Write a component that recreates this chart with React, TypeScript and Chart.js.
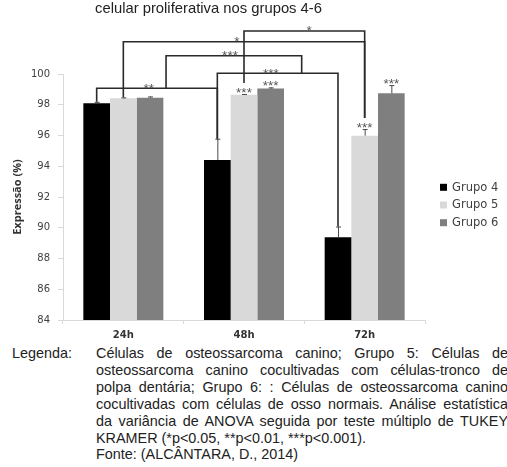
import React, { useEffect, useRef } from "react";
import { Chart, registerables } from "chart.js";

Chart.register(...registerables);

// ---- data ----
const categories = ["24h", "48h", "72h"];
const seriesNames = ["Grupo 4", "Grupo 5", "Grupo 6"];
const grupo4 = [98.09, 94.41, 89.38];
const grupo5 = [98.42, 98.65, 95.99];
const grupo6 = [98.46, 99.05, 98.74];
const grupo4Err = [0.1, 1.38, 0.7];
const grupo5Err = [0.06, 0.05, 0.43];
const grupo6Err = [0.08, 0.08, 0.54];
const grupo4Sig = ["", "", ""];
const grupo5Sig = ["", "***", "***"];
const grupo6Sig = ["", "***", "***"];
const yTicks = [84, 86, 88, 90, 92, 94, 96, 98, 100];
const seriesColors = ["#000000", "#d9d9d9", "#7f7f7f"];

// comparison brackets: endpoints are bars [category, dataset] or other brackets (at a category position)
const brackets = [
  { a: { bar: [0, 0] }, b: { bar: [1, 0] }, level: 99.07, label: "**", labelAt: 0.21 },
  { a: { bar: [1, 0] }, b: { bar: [2, 0] }, level: 100.05, label: "***", labelAt: 1.223 },
  { a: { bracket: 0, at: 0.354 }, b: { bracket: 1, at: 1.478 }, level: 101.19, label: "***", labelAt: 0.884 },
  { a: { bar: [0, 1] }, b: { bar: [2, 1] }, level: 102.1, label: "*", labelAt: 0.94 },
  { a: { bar: [1, 1] }, b: { bar: [2, 1] }, level: 102.8, label: "*", labelAt: 1.54 },
];

const titleText = "celular proliferativa nos grupos 4-6";
const yTitle = "Expressão (%)";
const captionLabel = "Legenda:";
const captionLines = [
  "Células de osteossarcoma canino; Grupo 5: Células de",
  "osteossarcoma canino cocultivadas com células-tronco de",
  "polpa dentária; Grupo 6: : Células de osteossarcoma canino",
  "cocultivadas com células de osso normais. Análise estatística",
  "da variância de ANOVA seguida por teste múltiplo de TUKEY",
  "KRAMER (*p<0.05, **p<0.01, ***p<0.001).",
  "Fonte: (ALCÂNTARA, D., 2014)",
];

const values = [grupo4, grupo5, grupo6];
const errors = [grupo4Err, grupo5Err, grupo6Err];
const sigs = [grupo4Sig, grupo5Sig, grupo6Sig];

const STAR_FONT = 13.5;

function drawStars(ctx: CanvasRenderingContext2D, s: string, x: number, cy: number) {
  ctx.font = `${STAR_FONT}px 'Liberation Sans', Arial, sans-serif`;
  ctx.fillStyle = "#555555";
  ctx.textAlign = "center";
  ctx.textBaseline = "alphabetic";
  ctx.fillText(s, x, cy + 0.58 * STAR_FONT);
}

const annotatePlugin = {
  id: "annotate",
  afterDatasetsDraw(chart: any) {
    const ctx: CanvasRenderingContext2D = chart.ctx;
    const ys = chart.scales.y;
    const xs = chart.scales.x;
    ctx.save();
    const barEnd: number[][] = [[], [], []];
    const barX: number[][] = [[], [], []];
    for (let d = 0; d < 3; d++) {
      const meta = chart.getDatasetMeta(d);
      for (let c = 0; c < categories.length; c++) {
        const el = meta.data[c];
        const v = values[d][c];
        const top = ys.getPixelForValue(v);
        const cap = ys.getPixelForValue(v + errors[d][c]);
        ctx.strokeStyle = "#4a4a4a";
        ctx.lineWidth = 1;
        ctx.beginPath();
        ctx.moveTo(el.x + 0.5, top);
        ctx.lineTo(el.x + 0.5, cap);
        ctx.moveTo(el.x - 2, cap + 0.5);
        ctx.lineTo(el.x + 3, cap + 0.5);
        ctx.stroke();
        barX[d][c] = el.x;
        if (sigs[d][c]) {
          const cy = cap - 5;
          drawStars(ctx, sigs[d][c], el.x, cy);
          barEnd[d][c] = cy - 6;
        } else {
          barEnd[d][c] = cap;
        }
      }
    }
    const levelPx = brackets.map((b) => ys.getPixelForValue(b.level));
    const endpoint = (e: any) => {
      if (e.bar) {
        const [c, d] = e.bar;
        return { x: barX[d][c], y: barEnd[d][c] };
      }
      return { x: xs.getPixelForValue(e.at), y: levelPx[e.bracket] };
    };
    ctx.strokeStyle = "#2a2a2a";
    ctx.lineWidth = 1.6;
    ctx.lineJoin = "miter";
    brackets.forEach((b, i) => {
      const pa = endpoint(b.a);
      const pb = endpoint(b.b);
      const ly = levelPx[i];
      ctx.beginPath();
      ctx.moveTo(pa.x, pa.y);
      ctx.lineTo(pa.x, ly);
      ctx.lineTo(pb.x, ly);
      ctx.lineTo(pb.x, pb.y);
      ctx.stroke();
    });
    brackets.forEach((b, i) => {
      drawStars(ctx, b.label, xs.getPixelForValue(b.labelAt), levelPx[i] - 3.5);
    });
    ctx.restore();
  },
  afterDraw(chart: any) {
    const ctx: CanvasRenderingContext2D = chart.ctx;
    const area = chart.chartArea;
    ctx.save();
    // title fragment
    ctx.font = "14.8px 'Liberation Sans', Arial, sans-serif";
    ctx.fillStyle = "#222222";
    ctx.textAlign = "left";
    ctx.textBaseline = "alphabetic";
    ctx.fillText(titleText, 95, 13.3);
    // legend
    const lx = area.right + 15;
    const ly0 = area.top + (area.bottom - area.top) / 2 - 9.7;
    ctx.font = "11.5px 'DejaVu Sans', sans-serif";
    ctx.textBaseline = "middle";
    seriesNames.forEach((name, i) => {
      const cy = ly0 + i * 17.7;
      ctx.fillStyle = seriesColors[i];
      ctx.fillRect(lx, cy - 3.5, 7, 7);
      ctx.fillStyle = "#404040";
      ctx.fillText(name, lx + 12, cy + 0.5);
    });
    ctx.restore();
  },
};

export default function App() {
  const ref = useRef<HTMLCanvasElement | null>(null);
  useEffect(() => {
    if (!ref.current) return;
    const chart = new Chart(ref.current, {
      type: "bar",
      data: {
        labels: categories,
        datasets: seriesNames.map((name, i) => ({
          label: name,
          data: values[i],
          backgroundColor: seriesColors[i],
          borderWidth: 0,
          categoryPercentage: 0.663,
          barPercentage: 1,
        })),
      },
      options: {
        animation: false,
        responsive: false,
        devicePixelRatio: 1,
        layout: { padding: { left: 0, right: 82, top: 74, bottom: 0 } },
        plugins: {
          legend: { display: false },
          title: { display: false },
          tooltip: { enabled: false },
        },
        scales: {
          x: {
            grid: { display: true, drawOnChartArea: false, drawTicks: true, tickLength: 4, color: "#d9d9d9", offset: true },
            border: { display: true, color: "#d9d9d9" },
            ticks: {
              padding: 5,
              color: "#333333",
              font: { family: "'DejaVu Sans', sans-serif", size: 10, weight: "bold" },
            },
            afterFit: (s: any) => {
              s.height = 25;
            },
          },
          y: {
            min: 84,
            max: 100,
            grid: { display: true, drawOnChartArea: false, drawTicks: true, tickLength: 5, color: "#d9d9d9" },
            border: { display: true, color: "#d9d9d9" },
            ticks: {
              padding: 8,
              color: "#404040",
              font: { family: "'DejaVu Sans', sans-serif", size: 10 },
            },
            afterBuildTicks: (s: any) => {
              s.ticks = yTicks.map((v) => ({ value: v }));
            },
            title: {
              display: true,
              text: yTitle,
              color: "#333333",
              font: { family: "'Open Sans', sans-serif", size: 11, weight: "bold" },
              padding: { top: 11, bottom: 0 },
            },
            afterFit: (s: any) => {
              s.width = 63;
            },
          },
        },
      },
      plugins: [annotatePlugin],
    } as any);
    return () => chart.destroy();
  }, []);

  const textFont = "14.4px 'Liberation Sans', Arial, sans-serif";
  return (
    <div style={{ position: "absolute", left: 0, top: 0, width: 507, height: 467, overflow: "hidden", background: "#ffffff" }}>
      <div style={{ position: "absolute", left: 0, top: 0, width: 507, height: 345 }}>
        <canvas ref={ref} width={507} height={345} style={{ display: "block" }} />
      </div>
      <div style={{ position: "absolute", left: 12, top: 345, font: textFont, lineHeight: "16.9px", color: "#222222" }}>
        {captionLabel}
      </div>
      <div style={{ position: "absolute", left: 96, top: 345, width: 412, font: textFont, lineHeight: "16.9px", color: "#222222" }}>
        {captionLines.map((line, i) => (
          <div key={i} style={{ textAlign: i < 5 ? "justify" : "left", textAlignLast: i < 5 ? "justify" : "left" } as any}>
            {line}
          </div>
        ))}
      </div>
    </div>
  );
}
